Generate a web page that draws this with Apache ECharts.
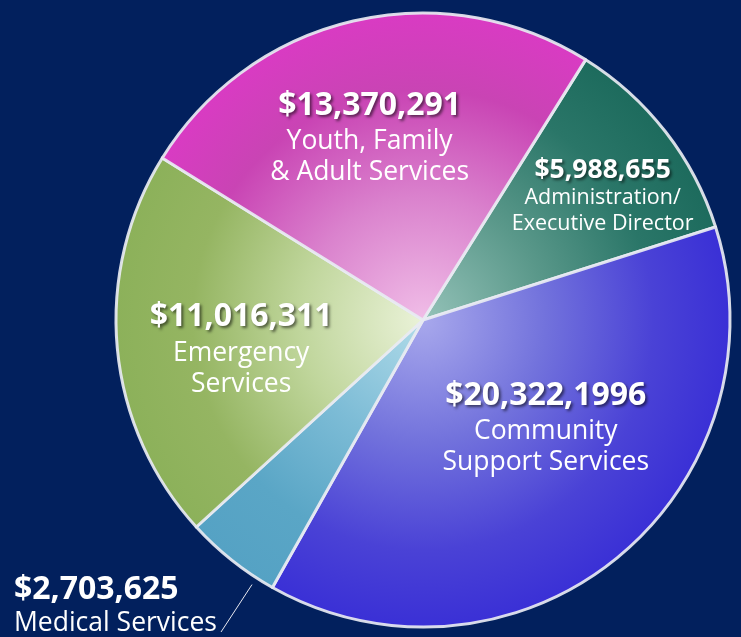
<!DOCTYPE html>
<html>
<head>
<meta charset="utf-8">
<style>
  html, body { margin: 0; padding: 0; background: #02205d; }
  #chart { width: 741px; height: 637px; }
</style>
<script src="https://cdn.jsdelivr.net/npm/echarts@6/dist/echarts.min.js"></script>
</head>
<body>
<div id="chart"></div>
<script>
// slices, clockwise from the top right
const names = ['Administration/\nExecutive Director', 'Community\nSupport Services', 'Medical Services', 'Emergency\nServices', 'Youth, Family\n& Adult Services']
const values = [5988655, 20322199, 2703625, 11016311, 13370291]
const amounts = ['$5,988,655', '$20,322,1996', '$2,703,625', '$11,016,311', '$13,370,291']

const cx = 423
const cy = 320
const R = 307
const startAngle = 58

// inner -> outer colours of each slice
const shades = [
  ['#94c2b8', '#5a988a', '#2a7668', '#1d6b5d'],
  ['#a8a8ec', '#7272dc', '#4a42d6', '#3a30d6'],
  ['#b0dbe9', '#7dbcd6', '#5aa6c6', '#55a2c4'],
  ['#eaf2d8', '#c0d69c', '#95b562', '#8cb15a'],
  ['#f0bde7', '#da82cd', '#c944b4', '#d93bc3']
]

// where the text block sits, relative to the default inside spot
const shifts = [[56, -28], [24, -15], [0, 0], [-26, 14], [-18, -31]]

const chart = echarts.init(document.getElementById('chart'))

const shadow = {
  textShadowColor: 'rgba(0,0,0,0.55)',
  textShadowBlur: 3,
  textShadowOffsetX: 2,
  textShadowOffsetY: 2
}

const bigRich = {
  v: { fontSize: 32, fontWeight: 'bold', lineHeight: 41, color: '#fff', ...shadow },
  n: { fontSize: 26.5, lineHeight: 31, color: '#fff' }
}
const smallRich = {
  v: { fontSize: 26.5, fontWeight: 'bold', lineHeight: 30, color: '#fff', ...shadow },
  n: { fontSize: 21.5, lineHeight: 26, color: '#fff' }
}

const total = values.reduce((a, b) => a + b, 0)

const data = names.map((name, i) => {
  const lines = name.split('\n').map(s => '{n|' + s + '}').join('\n')
  const st = shades[i]
  const item = {
    name,
    value: values[i],
    itemStyle: {
      color: {
        type: 'radial', x: cx, y: cy, r: R, global: true,
        colorStops: [
          { offset: 0, color: st[0] },
          { offset: 0.4, color: st[1] },
          { offset: 0.75, color: st[2] },
          { offset: 1, color: st[3] }
        ]
      }
    },
    label: {
      formatter: '{v|' + amounts[i] + '}\n' + lines,
      rich: i === 0 ? smallRich : bigRich
    }
  }
  if (i === 2) {
    item.label.position = 'outside'
    item.label.align = 'left'
    item.label.rich = {
      v: { fontSize: 32, fontWeight: 'bold', lineHeight: 36, color: '#fff', align: 'left' },
      n: { fontSize: 26.5, lineHeight: 31, color: '#fff', align: 'left' }
    }
    item.labelLine = { show: true, length: 20, length2: 0, lineStyle: { color: '#e8e8f0', width: 1 } }
  }
  return item
})

// the medical leader starts just outside its slice, near the community edge
const commEnd = startAngle - 360 * (values[0] + values[1]) / total
const medRad = (commEnd - 3.5) * Math.PI / 180
const medStart = [cx + (R + 8) * Math.cos(medRad), cy - (R + 8) * Math.sin(medRad)]

chart.setOption({
  backgroundColor: '#02205d',
  textStyle: { fontFamily: 'Open Sans' },
  series: [{
    type: 'pie',
    center: [cx, cy],
    radius: [0, R],
    startAngle,
    clockwise: true,
    silent: true,
    animation: false,
    avoidLabelOverlap: false,
    itemStyle: {
      borderColor: 'rgba(232,234,242,0.92)',
      borderWidth: 3
    },
    label: {
      show: true,
      position: 'inside',
      color: '#fff',
      align: 'center'
    },
    labelLine: { show: false },
    labelLayout: params => {
      if (params.dataIndex === 2) {
        return {
          x: 14, y: 605, align: 'left', verticalAlign: 'middle',
          labelLinePoints: [medStart, [221, 632], [221, 632]]
        }
      }
      const s = shifts[params.dataIndex]
      return { dx: s[0], dy: s[1] }
    },
    data
  }]
})
</script>
</body>
</html>
